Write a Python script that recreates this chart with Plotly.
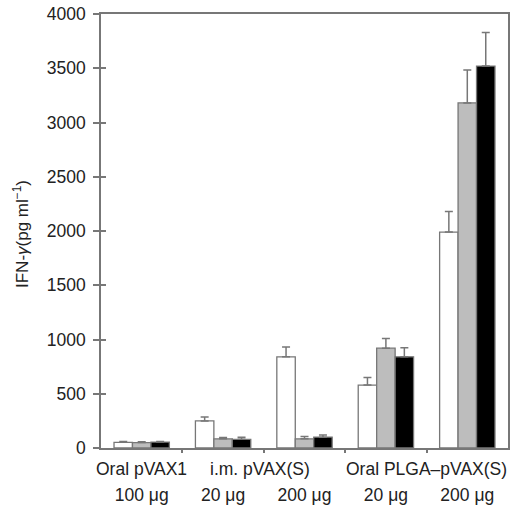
import plotly.graph_objects as go

groups = ["Oral pVAX1 100 μg", "i.m. pVAX(S) 20 μg", "i.m. pVAX(S) 200 μg",
          "Oral PLGA–pVAX(S) 20 μg", "Oral PLGA–pVAX(S) 200 μg"]
dose_labels = ["100 μg", "20 μg", "200 μg", "20 μg", "200 μg"]
route_labels = ["Oral pVAX1", "i.m. pVAX(S)", "Oral PLGA–pVAX(S)"]
route_pos = [0, 1.45, 3.5]

white_vals = [52, 250, 840, 580, 1990]
white_err = [8, 35, 90, 70, 190]
gray_vals = [50, 85, 85, 920, 3180]
gray_err = [8, 12, 20, 90, 305]
black_vals = [55, 80, 100, 840, 3520]
black_err = [6, 20, 20, 85, 310]

y_ticks = [0, 500, 1000, 1500, 2000, 2500, 3000, 3500, 4000]

x = list(range(len(groups)))
axis_col = "#777777"
txt_col = "#222222"
font = "Liberation Sans, Arial, sans-serif"
fs = 17.5

fig = go.Figure()
for vals, errs, fill in [(white_vals, white_err, "white"),
                         (gray_vals, gray_err, "#bdbdbd"),
                         (black_vals, black_err, "black")]:
    fig.add_trace(go.Bar(
        x=x, y=vals, marker=dict(color=fill, line=dict(color=axis_col, width=1.3)),
        error_y=dict(type="data", array=errs, arrayminus=[0]*len(errs), symmetric=False,
                     color=axis_col, thickness=1.5, width=4),
        showlegend=False, hoverinfo="skip"))

# invisible trace so the overlay axis (inside ticks) is drawn
fig.add_trace(go.Scatter(x=[0], y=[0], yaxis="y2", mode="markers",
                         marker=dict(opacity=0), showlegend=False, hoverinfo="skip"))

for lab, pos in zip(route_labels, route_pos):
    fig.add_annotation(x=pos, y=0, xref="x", yref="paper", text=lab, showarrow=False,
                       yanchor="middle", yshift=-21,
                       font=dict(family=font, size=fs, color=txt_col))

fig.add_annotation(x=0, y=0.5, xref="paper", yref="paper", xanchor="center", yanchor="middle",
                   xshift=-80, yshift=-3, textangle=-90, showarrow=False,
                   text="IFN-<i>γ</i>(pg ml<sup>−1</sup>)",
                   font=dict(family=font, size=17, color=txt_col))

fig.update_layout(
    width=517, height=506,
    margin=dict(l=101, r=9, t=14, b=58),
    paper_bgcolor="white", plot_bgcolor="white",
    barmode="group", bargap=0.32, bargroupgap=0,
    font=dict(family=font, size=fs, color=txt_col),
    xaxis=dict(range=[-0.5, 4.5], tickvals=x, ticktext=dose_labels, ticks="",
               showline=True, linecolor=axis_col, linewidth=1.5, mirror=True,
               showgrid=False, zeroline=False, ticklabelstandoff=30, automargin=False,
               minor=dict(tickvals=[0.5, 1.5, 2.5, 3.5], ticks="outside", ticklen=3,
                          tickcolor=axis_col, tickwidth=1.5, showgrid=False),
               tickfont=dict(family=font, size=fs, color=txt_col)),
    yaxis=dict(range=[0, 4000], tickvals=y_ticks, ticks="outside", ticklen=6,
               tickcolor=axis_col, tickwidth=1.5, automargin=False,
               showline=True, linecolor=axis_col, linewidth=1.5, mirror=True,
               showgrid=False, zeroline=False, ticklabelstandoff=4,
               tickfont=dict(family=font, size=fs, color=txt_col)),
    yaxis2=dict(range=[0, 4000], overlaying="y", side="left", tickvals=y_ticks,
                ticks="inside", ticklen=5, tickcolor=axis_col, tickwidth=1.5,
                showticklabels=False, showgrid=False, zeroline=False, showline=False,
                automargin=False),
)

fig.write_html("out.html", config={"displayModeBar": False},
               post_script="document.body.style.margin='0';document.body.style.overflow='hidden';")
